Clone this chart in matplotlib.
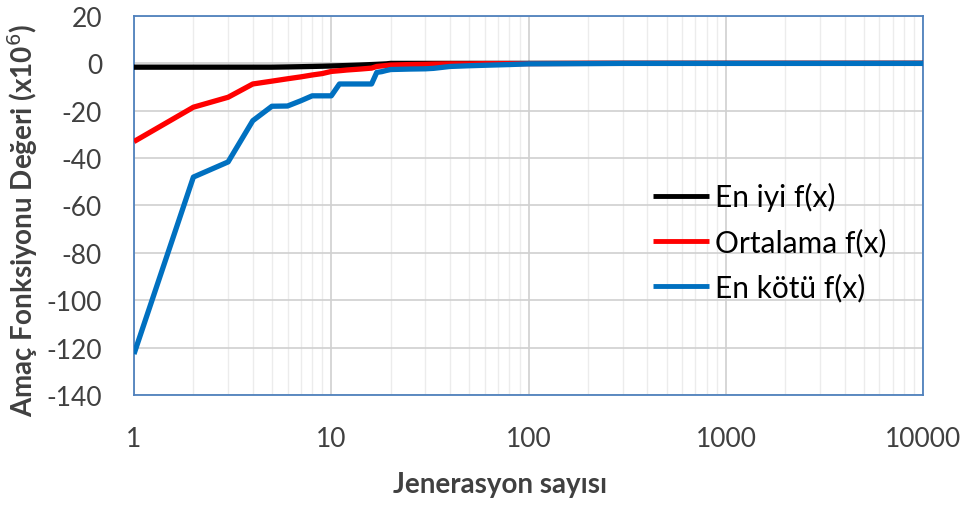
import numpy as np
import matplotlib
matplotlib.use("Agg")
import matplotlib.pyplot as plt
from matplotlib.ticker import FixedLocator, NullFormatter

plt.rcParams['font.family'] = ['Lato', 'DejaVu Sans']
plt.rcParams['axes.unicode_minus'] = False

# generations (log x axis)
gen = [1, 2, 3, 4, 5, 6, 7, 8, 9, 10, 11, 12, 14, 16, 17, 18, 19, 20,
       25, 30, 33, 40, 50, 60, 80, 100, 200, 300, 1000, 10000]

# objective values, x10^6
en_iyi = [-1.6, -1.6, -1.6, -1.6, -1.6, -1.5, -1.4, -1.3, -1.2, -1.1, -1.0, -0.9, -0.7, -0.5,
          -0.4, -0.3, -0.2, 0.0, 0.0, 0.0, 0.0, 0.0, 0.0, 0.0, 0.0, 0.0, 0.0, 0.0, 0.0, 0.0]
ortalama = [-33.0, -18.5, -14.3, -8.7, -7.5, -6.5, -5.7, -4.9, -4.3, -3.4, -3.1, -2.8, -2.4, -2.0,
            -1.3, -1.1, -0.9, -0.7, -0.5, -0.4, -0.3, -0.2, -0.2, -0.1, -0.1, -0.1, 0.0, 0.0, 0.0, 0.0]
en_kotu = [-122.7, -48.0, -41.6, -24.2, -18.1, -18.0, -15.8, -13.7, -13.7, -13.7, -8.7, -8.7, -8.7, -8.7,
           -3.8, -3.5, -3.0, -2.6, -2.4, -2.3, -2.1, -1.3, -1.0, -0.8, -0.5, -0.2, -0.1, 0.0, 0.0, 0.0]

seriler = [("En iyi f(x)", en_iyi, "#000000"),
           ("Ortalama f(x)", ortalama, "#ff0000"),
           ("En kötü f(x)", en_kotu, "#0070c0")]

fig = plt.figure(figsize=(9.78, 5.06), dpi=100)
ax = fig.add_axes([0.137, 0.2174, 0.807, 0.749])

for ad, y, renk in seriler:
    ax.plot(gen, y, color=renk, lw=3.8, label=ad, solid_capstyle="butt", zorder=3)

ax.set_xscale("log")
ax.set_xlim(1, 10000)
ax.set_ylim(-140, 20)
ax.set_yticks(np.arange(-140, 21, 20))
ax.set_xticks([1, 10, 100, 1000, 10000])
ax.set_xticklabels(["1", "10", "100", "1000", "10000"])
minor = [m * 10 ** d for d in range(4) for m in range(2, 10)]
ax.xaxis.set_minor_locator(FixedLocator(minor))
ax.xaxis.set_minor_formatter(NullFormatter())

ax.grid(True, which="major", color="#d0d0d0", lw=1.2, zorder=0)
ax.grid(True, which="minor", axis="x", color="#ececec", lw=1.0, zorder=0)
ax.set_axisbelow(True)

for s in ax.spines.values():
    s.set_color("#4f81bd")
    s.set_linewidth(1.3)
ax.tick_params(which="both", length=0)
ax.tick_params(axis="both", labelsize=19, labelcolor="#404040")
ax.tick_params(axis="x", pad=22)
ax.tick_params(axis="y", pad=23)

ax.set_xlabel("Jenerasyon sayısı", fontsize=20, fontweight="bold", color="#404040")
ax.xaxis.set_label_coords(0.464, -0.2)
ax.set_ylabel("Amaç Fonksiyonu Değeri (x10$^6$)", fontsize=20, fontweight="bold", color="#404040")
ax.yaxis.set_label_coords(-0.119, 0.464)

leg = ax.legend(loc="upper left", bbox_to_anchor=(0.658, 0.562), frameon=False,
                fontsize=21.5, handlelength=1.85, handletextpad=0.2, labelspacing=0.55,
                borderpad=0, borderaxespad=0)
for h in leg.get_lines():
    h.set_linewidth(3.5)

fig.savefig("out.png", dpi=100)
